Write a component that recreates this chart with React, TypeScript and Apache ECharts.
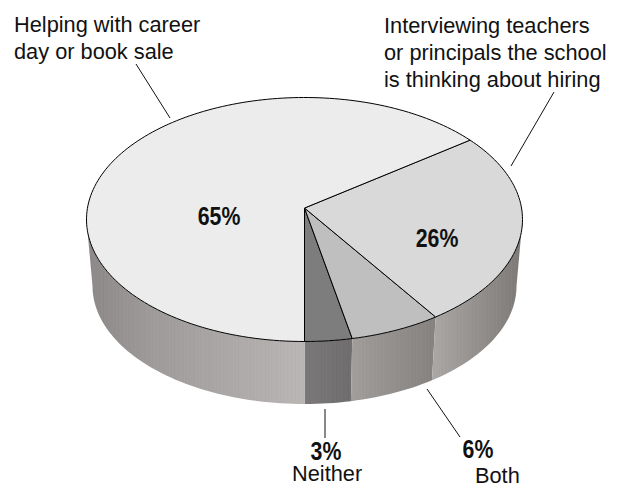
import React, { useEffect, useRef } from "react";
import * as echarts from "echarts";

const categories = ["Neither", "Both", "Interviewing teachers or principals the school is thinking about hiring", "Helping with career day or book sale"];
const percentLabels = ["3%", "6%", "26%", "65%"];
// Wedge sizes; they round to the printed labels.
const shareValues = [3.2, 6.2, 25.7, 64.9];
const topColors = ["#7d7d7d", "#bfbfbf", "#d9d9d9", "#ececec"];
const sideStops = [
  [[305, "#7b7879"], [351, "#6f6d6e"]],
  [[351, "#a09d9b"], [435, "#85827f"]],
  [[435, "#a9a6a4"], [522, "#7c7977"]],
  [[87, "#8c8887"], [150, "#9e9a99"], [220, "#aaa6a5"], [305, "#bab6b5"]],
];

const W = 621, H = 484;
const TOP = { cx: 304.5, cy: 219.5, rx: 218, ry: 122 };
const BOTTOM = { cx: 304.5, cy: 286, rx: 212, ry: 118 };
const C = -0.094; // perspective offset of the pie's hub inside the ellipse
const LIMIT = (Math.acos(-C) * 180) / Math.PI; // degrees from front to silhouette
const TOTAL = shareValues.reduce((a, b) => a + b, 0);

function project(deg: number, e: typeof TOP) {
  const t = (deg * Math.PI) / 180;
  const X = Math.sin(t), Y = Math.cos(t);
  const d = 1 + C * Y;
  return [e.cx + (e.rx * X * Math.sqrt(1 - C * C)) / d, e.cy + (e.ry * (Y + C)) / d];
}
function arc(a: number, b: number, e: typeof TOP) {
  const pts: number[][] = [];
  const n = Math.max(2, Math.ceil(Math.abs(b - a) / 1.5));
  for (let i = 0; i <= n; i++) pts.push(project(a + ((b - a) * i) / n, e));
  return pts;
}
function range(i: number) {
  const before = shareValues.slice(0, i).reduce((a, b) => a + b, 0);
  return [(before / TOTAL) * 360, ((before + shareValues[i]) / TOTAL) * 360];
}
function hexToRgb(h: string) {
  return [1, 3, 5].map((p) => parseInt(h.slice(p, p + 2), 16));
}
// Side shading: base ramp plus the fine vertical streaks of the printed screen.
function sideGradient(stops: [number, string][]) {
  const x0 = stops[0][0], x1 = stops[stops.length - 1][0];
  const colorStops: { offset: number; color: string }[] = [];
  for (let x = x0; x <= x1; x += 1.5) {
    let k = 0;
    while (k < stops.length - 2 && x > stops[k + 1][0]) k++;
    const t = Math.min(1, (x - stops[k][0]) / (stops[k + 1][0] - stops[k][0]));
    const a = hexToRgb(stops[k][1]), b = hexToRgb(stops[k + 1][1]);
    const streak = 3.5 * Math.sin(x * 1.9) * Math.sin(x * 0.23);
    const c = a.map((v, j) => Math.round(v + (b[j] - v) * t + streak));
    colorStops.push({ offset: (x - x0) / (x1 - x0), color: `rgb(${c.join(",")})` });
  }
  return { type: "linear", x: x0, y: 0, x2: x1, y2: 0, global: true, colorStops };
}

const renderTop = (_p: any, api: any) => {
  const i = api.value(1);
  const [a, b] = range(i);
  const hubPt = [TOP.cx, TOP.cy + TOP.ry * C];
  return {
    type: "polygon",
    shape: { points: [hubPt, ...arc(a, b, TOP)] },
    style: { fill: topColors[i], stroke: "#000", lineWidth: 1 },
  };
};
const renderSide = (_p: any, api: any) => {
  const i = api.value(1);
  const [a0, b0] = range(i);
  let a = a0, b = b0;
  if (a < LIMIT && b > LIMIT) b = LIMIT;
  else if (a < 360 - LIMIT && b > 360 - LIMIT) a = 360 - LIMIT;
  return {
    type: "polygon",
    shape: { points: [...arc(a, b, TOP), ...arc(b, a, BOTTOM)] },
    style: { fill: sideGradient(sideStops[i] as [number, string][]), stroke: "none" },
  };
};

const FONT = '"Liberation Sans", Arial, sans-serif';
// y is the text's baseline; the text element itself is anchored at its top
const txt = (text: string, x: number, baseline: number, bold = false, align = "left") => ({
  type: "text",
  x,
  y: baseline - (bold ? 23 : 19),
  z: 20,
  scaleX: bold ? 0.82 : 0.99,
  silent: true,
  style: {
    text, fill: "#111",
    font: `${bold ? "bold 26px" : "22px"} ${FONT}`,
    textAlign: align,
  },
});
const lead = (x1: number, y1: number, x2: number, y2: number) => ({
  type: "line", z: 20, shape: { x1, y1, x2, y2 }, style: { stroke: "#111", lineWidth: 1 }, silent: true,
});

export default function App() {
  const ref = useRef<HTMLDivElement>(null);
  useEffect(() => {
    const chart = echarts.init(ref.current!, null, { renderer: "svg" });
    const data = shareValues.map((v, i) => [v, i]);
    chart.setOption({
      animation: false,
      backgroundColor: "#fff",
      series: [
        { type: "custom", coordinateSystem: "none", renderItem: renderSide, data, z: 1, silent: true },
        { type: "custom", coordinateSystem: "none", renderItem: renderTop, data, z: 2, silent: true },
      ],
      graphic: {
        elements: [
          lead(136, 64, 170, 118),
          lead(554, 92, 511, 166),
          lead(325, 409, 325, 438),
          lead(427, 389, 460, 437),
          txt("Helping with career", 14, 32),
          txt("day or book sale", 14, 59),
          txt("Interviewing teachers", 384, 33),
          txt("or principals the school", 384, 60),
          txt("is thinking about hiring", 384, 87),
          txt(percentLabels[3], 219, 226, true, "center"),
          txt(percentLabels[2], 437, 248, true, "center"),
          txt(percentLabels[0], 326, 461, true, "center"),
          txt(percentLabels[1], 478, 459, true, "center"),
          txt(categories[0], 292, 481),
          txt(categories[1], 475, 483),
        ],
      },
    });
    return () => chart.dispose();
  }, []);
  return <div ref={ref} style={{ position: "fixed", left: 0, top: 0, width: W, height: H }} />;
}
